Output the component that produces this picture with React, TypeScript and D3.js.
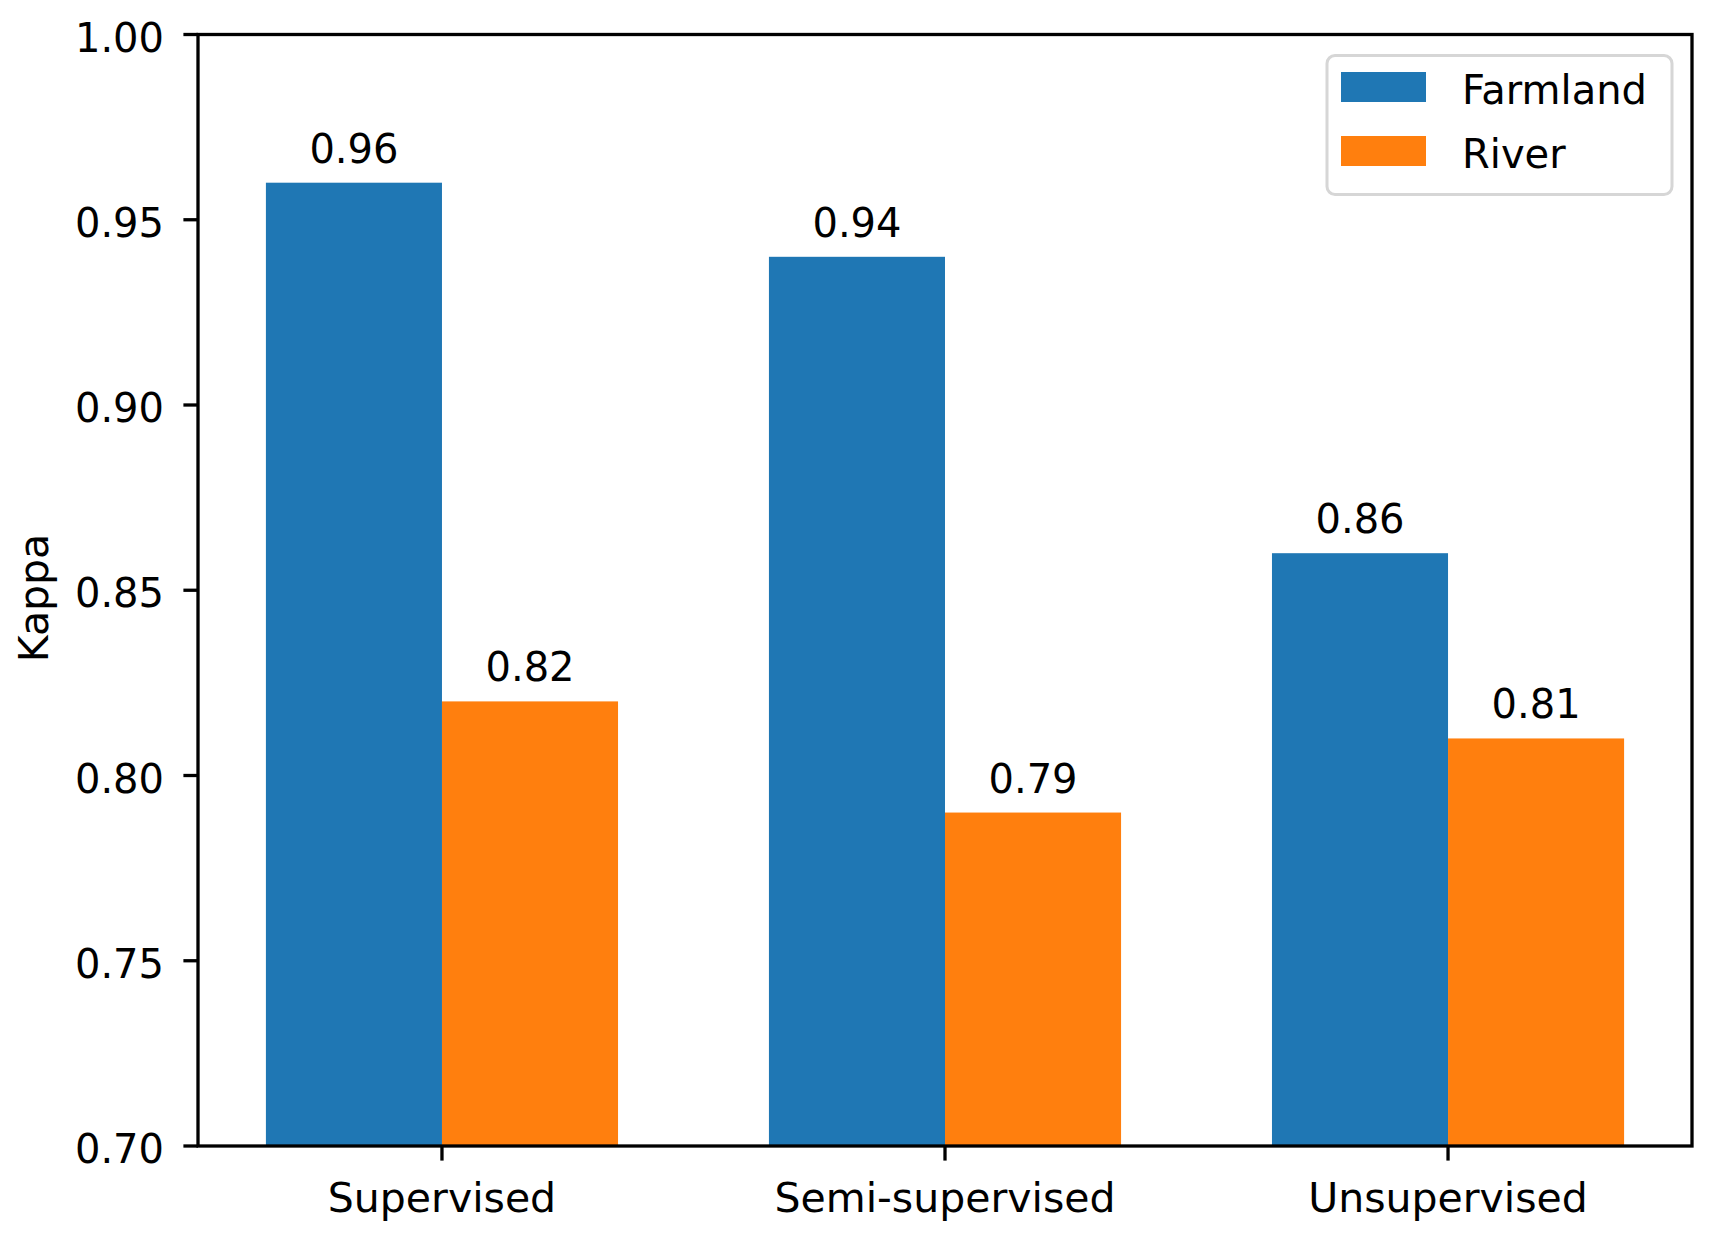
import React, { useEffect } from "react";
import * as d3 from "d3";

const categories = ["Supervised", "Semi-supervised", "Unsupervised"];
const farmland = [0.96, 0.94, 0.86];
const river = [0.82, 0.79, 0.81];
const yTicks = [0.7, 0.75, 0.8, 0.85, 0.9, 0.95, 1.0];
const seriesNames = ["Farmland", "River"];
const seriesColors = ["#1f77b4", "#ff7f0e"];

const W = 1709;
const H = 1239;
const L = 198, R = 1692, T = 34.5, B = 1146;
const barW = 0.35;
const FONT = "DejaVu Sans, sans-serif";
const FS = 40;

export default function App() {
  useEffect(() => {
    document.body.style.margin = "0";
  }, []);

  const x = d3.scaleLinear().domain([-0.485, 2.485]).range([L, R]);
  const y = d3.scaleLinear().domain([0.7, 1.0]).range([B, T]);
  const series = [farmland, river];
  const tickLen = 14.6;
  const lw = 3.3;

  return (
    <svg width={W} height={H} style={{ display: "block", background: "#fff" }}>
      <defs>
        <clipPath id="plot">
          <rect x={L} y={T} width={R - L} height={B - T} />
        </clipPath>
      </defs>
      <g clipPath="url(#plot)">
        {series.map((vals, si) =>
          vals.map((v, i) => {
            const cx = i + (si === 0 ? -barW / 2 : barW / 2);
            const x0 = x(cx - barW / 2);
            const x1 = x(cx + barW / 2);
            return (
              <rect
                key={`${si}-${i}`}
                x={x0}
                y={y(v)}
                width={x1 - x0}
                height={y(0.7) - y(v) + 10}
                fill={seriesColors[si]}
              />
            );
          })
        )}
      </g>
      {series.map((vals, si) =>
        vals.map((v, i) => {
          const cx = i + (si === 0 ? -barW / 2 : barW / 2);
          return (
            <text
              key={`l${si}-${i}`}
              x={x(cx)}
              y={y(v) - 20}
              textAnchor="middle"
              fontFamily={FONT}
              fontSize={FS}
              fill="#000"
            >
              {v.toFixed(2)}
            </text>
          );
        })
      )}
      {/* spines */}
      <rect x={L} y={T} width={R - L} height={B - T} fill="none" stroke="#000" strokeWidth={lw} />
      {/* y ticks */}
      {yTicks.map((t) => (
        <g key={t}>
          <line x1={L - tickLen} x2={L} y1={y(t)} y2={y(t)} stroke="#000" strokeWidth={lw} />
          <text
            x={164}
            y={y(t) + 17}
            textAnchor="end"
            fontFamily={FONT}
            fontSize={FS}
            fill="#000"
          >
            {t.toFixed(2)}
          </text>
        </g>
      ))}
      {/* x ticks */}
      {categories.map((c, i) => (
        <g key={c}>
          <line x1={x(i)} x2={x(i)} y1={B} y2={B + tickLen} stroke="#000" strokeWidth={lw} />
          <text
            x={x(i)}
            y={1212}
            textAnchor="middle"
            fontFamily={FONT}
            fontSize={41}
            fill="#000"
          >
            {c}
          </text>
        </g>
      ))}
      <text
        transform={`translate(48,598) rotate(-90)`}
        textAnchor="middle"
        fontFamily={FONT}
        fontSize={41}
        fill="#000"
      >
        Kappa
      </text>
      {/* legend */}
      <rect
        x={1327}
        y={55.5}
        width={345}
        height={139}
        rx={8}
        ry={8}
        fill="#fff"
        fillOpacity={0.8}
        stroke="#d6d6d6"
        strokeWidth={3}
      />
      {seriesNames.map((n, i) => (
        <g key={n}>
          <rect x={1341} y={72 + i * 64} width={85} height={30} fill={seriesColors[i]} />
          <text
            x={1462}
            y={104 + i * 64}
            fontFamily={FONT}
            fontSize={FS}
            fill="#000"
          >
            {n}
          </text>
        </g>
      ))}
    </svg>
  );
}
